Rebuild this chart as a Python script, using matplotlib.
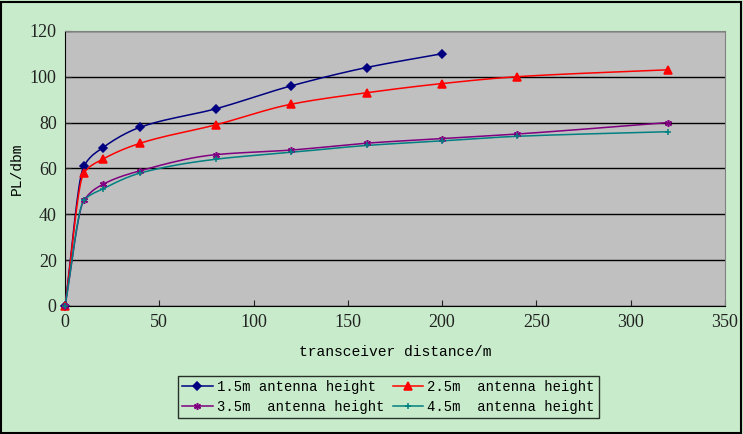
import numpy as np
import matplotlib.pyplot as plt
from matplotlib.patches import Rectangle

# distances (m) and path loss (dbm)
dist_15 = [0, 10, 20, 40, 80, 120, 160, 200]
pl_15 = [0, 61, 69, 78, 86, 96, 104, 110]
dist_25 = [0, 10, 20, 40, 80, 120, 160, 200, 240, 320]
pl_25 = [0, 58, 64, 71, 79, 88, 93, 97, 100, 103]
dist_35 = [0, 10, 20, 40, 80, 120, 160, 200, 240, 320]
pl_35 = [0, 46, 53, 59, 66, 68, 71, 73, 75, 80]
dist_45 = [0, 10, 20, 40, 80, 120, 160, 200, 240, 320]
pl_45 = [0, 46, 51, 58, 64, 67, 70, 72, 74, 76]

labels = ['1.5m antenna height', '2.5m  antenna height',
          '3.5m  antenna height', '4.5m  antenna height']


def smooth(x, y, n=20):
    # monotone cubic (Fritsch-Carlson) for a smoothed line like Excel's
    x = np.asarray(x, float)
    y = np.asarray(y, float)
    h = np.diff(x)
    d = np.diff(y) / h
    m = np.zeros_like(y)
    m[0], m[-1] = d[0], d[-1]
    for i in range(1, len(x) - 1):
        if d[i - 1] * d[i] <= 0:
            m[i] = 0
        else:
            w1 = 2 * h[i] + h[i - 1]
            w2 = h[i] + 2 * h[i - 1]
            m[i] = (w1 + w2) / (w1 / d[i - 1] + w2 / d[i])
    xs, ys = [], []
    for i in range(len(x) - 1):
        t = np.linspace(0, 1, n)
        h00 = 2 * t ** 3 - 3 * t ** 2 + 1
        h10 = t ** 3 - 2 * t ** 2 + t
        h01 = -2 * t ** 3 + 3 * t ** 2
        h11 = t ** 3 - t ** 2
        xs.extend(x[i] + t * h[i])
        ys.extend(h00 * y[i] + h10 * h[i] * m[i] + h01 * y[i + 1] + h11 * h[i] * m[i + 1])
    return xs, ys


fig = plt.figure(figsize=(7.43, 4.34), dpi=100, facecolor='#C8ECCB')
fig.patches.append(Rectangle((0.002, 0.003), 0.995, 0.993, transform=fig.transFigure,
                             fill=False, edgecolor='black', linewidth=1.5))
ax = fig.add_axes([0.0875, 0.295, 0.888, 0.634])
ax.set_facecolor('#C0C0C0')

series = [
    (dist_15, pl_15, '#000080', 'D', 4, labels[0]),
    (dist_25, pl_25, '#FF0000', '^', 6, labels[1]),
    (dist_35, pl_35, '#800080', (6, 2, 0), 5, labels[2]),
    (dist_45, pl_45, '#008080', '+', 5, labels[3]),
]
handles = []
for x, y, c, m, ms, lab in series:
    sx, sy = smooth(x, y)
    ax.plot(sx, sy, color=c, linewidth=1.1, zorder=3)
    ax.plot(x, y, linestyle='none', marker=m, markersize=ms, color=c,
            markeredgecolor=c, markeredgewidth=1.1, zorder=4, clip_on=False)
    h, = ax.plot([], [], color=c, marker=m, markersize=ms, markeredgewidth=1.1,
                 linewidth=1.1, label=lab)
    handles.append(h)

ax.set_xlim(0, 350)
ax.set_ylim(0, 120)
ax.set_xticks(range(0, 351, 50))
ax.set_yticks(range(0, 121, 20))
ax.yaxis.grid(True, color='black', linewidth=1.0)
ax.set_axisbelow(True)
for s in ['top', 'right']:
    ax.spines[s].set_color('#808080')
for s in ['left', 'bottom']:
    ax.spines[s].set_color('black')
ax.tick_params(direction='in', length=4, labelsize=13, colors='#222222', pad=6)
for lab in ax.get_xticklabels() + ax.get_yticklabels():
    lab.set_family('Liberation Serif')

ax.set_xlabel('transceiver distance/m', family='Liberation Mono', fontsize=10.5, labelpad=10)
ax.set_ylabel('PL/dbm', family='Liberation Mono', fontsize=10.5, labelpad=4)

order = [handles[0], handles[2], handles[1], handles[3]]
leg = fig.legend(order, [h.get_label() for h in order], ncol=2,
                 loc='center', bbox_to_anchor=(0.523, 0.085),
                 prop={'family': 'Liberation Mono', 'size': 10},
                 frameon=True, fancybox=False, edgecolor='black',
                 handlelength=2.2, handletextpad=0.3, columnspacing=0.6,
                 labelspacing=0.45, borderpad=0.3)
leg.get_frame().set_facecolor('#C8ECCB')
leg.get_frame().set_linewidth(1.0)

fig.savefig('out.png', dpi=100, facecolor=fig.get_facecolor())
